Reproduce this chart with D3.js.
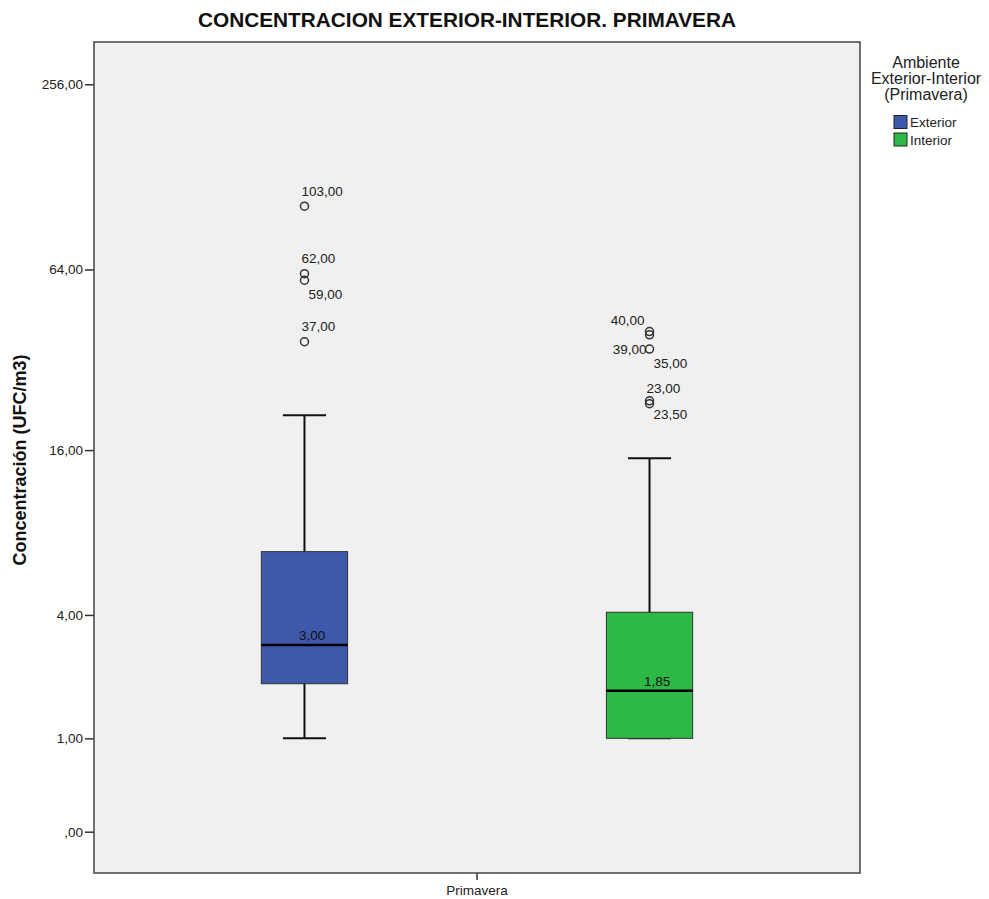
<!DOCTYPE html>
<html>
<head>
<meta charset="utf-8">
<script src="https://cdnjs.cloudflare.com/ajax/libs/d3/7.8.5/d3.min.js"></script>
<style>
  body { margin: 0; background: #fff; }
  svg { font-family: "Liberation Sans", Arial, sans-serif; }
</style>
</head>
<body>
<svg id="chart" width="989" height="899"></svg>
<script>
// chart values
const seasons = ["Primavera"];
const groups = ["Exterior", "Interior"];
const boxMin = [1, 1];
const boxQ1 = [2, 1];
const boxMedian = [3, 1.85];
const boxQ3 = [7, 4.1];
const boxMax = [21, 15];
const outlierValues = [
    [103, 62, 59, 37],
    [40, 39, 35, 23, 23.5]
];
const yTicks = [0, 1, 4, 16, 64, 256];

// where each outlier label goes, relative to its circle
const labelPlacement = [
    ["top", "top", "bottomRight", "top"],
    ["topLeft", "bottomLeft", "bottomRight", "top", "bottomRight"]
];

const colors = { Exterior: "#3e58ac", Interior: "#2eb848" };

const locale = d3.formatLocale({ decimal: ",", thousands: ".", grouping: [3], currency: ["", ""] });
const fmt = v => locale.format(".2f")(v).replace(/^0,/, ",");

const svg = d3.select("#chart");
const plot = { left: 94, right: 860, top: 42, bottom: 873 };

const y = d3.scaleSymlog().constant(1)
    .domain([0, 256])
    .range([831.7, 84.3]);

const x = d3.scaleBand()
    .domain(seasons)
    .range([plot.left, plot.right])
    .paddingOuter(0.055);

const xSub = d3.scaleBand()
    .domain(groups)
    .range([0, x.bandwidth()]);

// plot background
svg.append("rect")
    .attr("x", plot.left).attr("y", plot.top)
    .attr("width", plot.right - plot.left)
    .attr("height", plot.bottom - plot.top)
    .style("fill", "#f0f0f0");

// title
svg.append("text")
    .attr("x", 467).attr("y", 27)
    .attr("text-anchor", "middle")
    .style("font-size", "20.8px")
    .style("font-weight", "bold")
    .style("fill", "#111")
    .text("CONCENTRACION EXTERIOR-INTERIOR. PRIMAVERA");

// y axis
const yAxis = d3.axisLeft(y)
    .tickValues(yTicks)
    .tickFormat(fmt)
    .tickSize(9)
    .tickPadding(2);

const yG = svg.append("g")
    .attr("transform", `translate(${plot.left},0)`)
    .call(yAxis);
yG.select(".domain").remove();
yG.selectAll(".tick line").style("stroke", "#333").style("stroke-width", 1.5);
yG.selectAll(".tick text")
    .style("font-size", "13.5px")
    .style("fill", "#222")
    .style("font-family", "\"Liberation Sans\", Arial, sans-serif");

svg.append("text")
    .attr("transform", `translate(26,460) rotate(-90)`)
    .attr("text-anchor", "middle")
    .style("font-size", "18px")
    .style("font-weight", "bold")
    .style("fill", "#111")
    .text("Concentración (UFC/m3)");

// x axis
const xAxis = d3.axisBottom(x).tickSize(7).tickPadding(3);
const xG = svg.append("g")
    .attr("transform", `translate(0,${plot.bottom})`)
    .call(xAxis);
xG.select(".domain").remove();
xG.selectAll(".tick line").style("stroke", "#333").style("stroke-width", 1.5);
xG.selectAll(".tick text")
    .attr("dy", "0.88em")
    .style("font-size", "13.5px")
    .style("fill", "#222")
    .style("font-family", "\"Liberation Sans\", Arial, sans-serif");

// boxes
const boxes = groups.map((g, i) => ({
    group: g,
    min: boxMin[i], q1: boxQ1[i], median: boxMedian[i], q3: boxQ3[i], max: boxMax[i],
    outliers: outlierValues[i], placement: labelPlacement[i],
    cx: x(seasons[0]) + xSub(g) + xSub.bandwidth() / 2
}));
const boxW = xSub.bandwidth() * 0.25;

const bg = svg.selectAll(".box")
    .data(boxes)
    .enter()
    .append("g")
    .attr("class", "box");

bg.append("line")
    .attr("x1", d => d.cx).attr("x2", d => d.cx)
    .attr("y1", d => y(d.max)).attr("y2", d => y(d.min))
    .style("stroke", "#111").style("stroke-width", 2);

bg.selectAll(".cap")
    .data(d => [d.min, d.max].map(v => ({ v, cx: d.cx })))
    .enter()
    .append("line")
    .attr("class", "cap")
    .attr("x1", d => d.cx - boxW / 4).attr("x2", d => d.cx + boxW / 4)
    .attr("y1", d => y(d.v)).attr("y2", d => y(d.v))
    .style("stroke", "#111").style("stroke-width", 2);

bg.append("rect")
    .attr("x", d => d.cx - boxW / 2)
    .attr("width", boxW)
    .attr("y", d => y(d.q3))
    .attr("height", d => y(d.q1) - y(d.q3))
    .style("fill", d => colors[d.group])
    .style("stroke", "#333")
    .style("stroke-width", 1);

bg.append("line")
    .attr("x1", d => d.cx - boxW / 2).attr("x2", d => d.cx + boxW / 2)
    .attr("y1", d => y(d.median)).attr("y2", d => y(d.median))
    .style("stroke", "#000").style("stroke-width", 2.5);

bg.append("text")
    .attr("x", d => d.cx - 5.5)
    .attr("y", d => y(d.median) - 4.5)
    .style("font-size", "13.5px")
    .style("fill", "#111")
    .text(d => fmt(d.median));

// outliers
const offsets = {
    top: { dx: -3, dy: -10.5, anchor: "start" },
    bottomRight: { dx: 4, dy: 18.5, anchor: "start" },
    topLeft: { dx: -5, dy: -6.5, anchor: "end" },
    bottomLeft: { dx: -3, dy: 19, anchor: "end" }
};

const outs = bg.selectAll(".outlier")
    .data(d => d.outliers.map((v, j) => ({ v, cx: d.cx, pos: offsets[d.placement[j]] })))
    .enter()
    .append("g")
    .attr("class", "outlier");

outs.append("circle")
    .attr("cx", d => d.cx)
    .attr("cy", d => y(d.v))
    .attr("r", 4)
    .style("fill", "none")
    .style("stroke", "#333")
    .style("stroke-width", 1.5);

outs.append("text")
    .attr("x", d => d.cx + d.pos.dx)
    .attr("y", d => y(d.v) + d.pos.dy)
    .attr("text-anchor", d => d.pos.anchor)
    .style("font-size", "13.5px")
    .style("fill", "#222")
    .text(d => fmt(d.v));

// frame
svg.append("rect")
    .attr("x", plot.left).attr("y", plot.top)
    .attr("width", plot.right - plot.left)
    .attr("height", plot.bottom - plot.top)
    .style("fill", "none")
    .style("stroke", "#444")
    .style("stroke-width", 1.5);

// legend
const legend = svg.append("g");
["Ambiente", "Exterior-Interior", "(Primavera)"].forEach((t, i) => {
    legend.append("text")
        .attr("x", 926).attr("y", 68 + i * 16.2)
        .attr("text-anchor", "middle")
        .style("font-size", "16px")
        .style("fill", "#222")
        .text(t);
});
groups.forEach((g, i) => {
    legend.append("rect")
        .attr("x", 894).attr("y", 115.5 + i * 17.5)
        .attr("width", 13).attr("height", 13)
        .style("fill", colors[g])
        .style("stroke", "#222")
        .style("stroke-width", 1);
    legend.append("text")
        .attr("x", 910).attr("y", 127 + i * 17.5)
        .style("font-size", "13.5px")
        .style("fill", "#222")
        .text(g);
});
</script>
</body>
</html>
